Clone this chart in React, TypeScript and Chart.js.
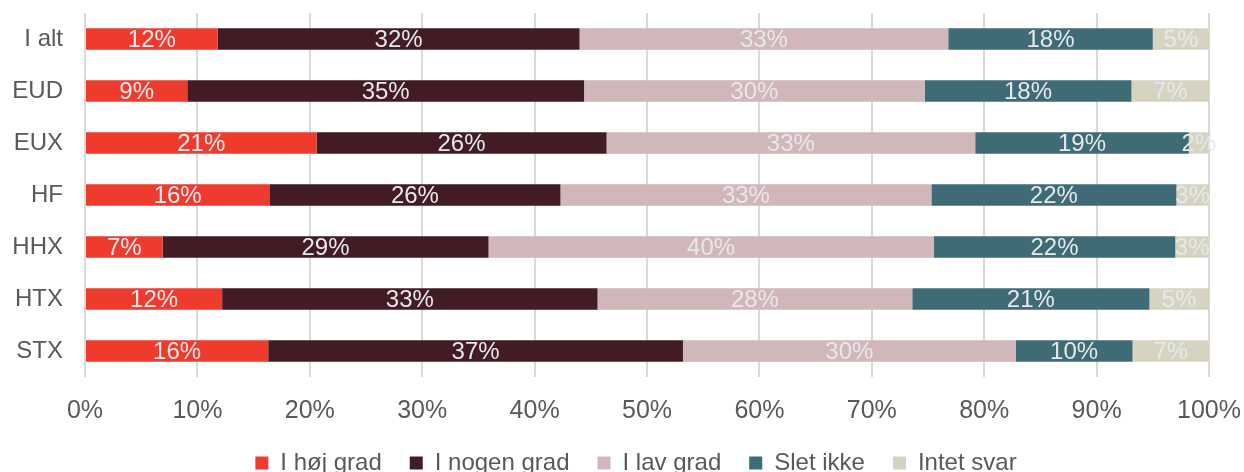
import React, { useEffect, useRef } from 'react';
import { Chart, registerables } from 'chart.js';

Chart.register(...registerables);

const categories = ['I alt', 'EUD', 'EUX', 'HF', 'HHX', 'HTX', 'STX'];
const seriesNames = ['I høj grad', 'I nogen grad', 'I lav grad', 'Slet ikke', 'Intet svar'];
const hojGrad = [11.8, 9.1, 20.6, 16.4, 6.9, 12.2, 16.3];
const nogenGrad = [32.2, 35.3, 25.8, 25.9, 29.0, 33.4, 36.9];
const lavGrad = [32.8, 30.3, 32.8, 33.0, 39.6, 28.0, 29.6];
const sletIkke = [18.2, 18.4, 19.0, 21.8, 21.5, 21.1, 10.4];
const intetSvar = [5.0, 6.9, 1.8, 2.9, 3.0, 5.3, 6.8];
const seriesColors = ['#ee3b2d', '#421b25', '#d1b6ba', '#3e6b76', '#d6d3c0'];

const FONT = "'Liberation Sans', Arial, sans-serif";

const labelPlugin = {
  id: 'segLabels',
  afterDatasetsDraw(chart: any) {
    const ctx = chart.ctx;
    ctx.save();
    ctx.font = `24px ${FONT}`;
    ctx.textAlign = 'center';
    ctx.textBaseline = 'middle';
    ctx.fillStyle = '#e6e9eb';
    chart.data.datasets.forEach((ds: any, di: number) => {
      const meta = chart.getDatasetMeta(di);
      meta.data.forEach((el: any, i: number) => {
        const v = ds.data[i];
        const cx = (el.x + el.base) / 2;
        ctx.fillText(`${Math.round(v)}%`, cx, el.y + 1);
      });
    });
    ctx.restore();
  },
};

export default function App() {
  const ref = useRef<HTMLCanvasElement>(null);
  useEffect(() => {
    const seriesData = [hojGrad, nogenGrad, lavGrad, sletIkke, intetSvar];
    const chart = new Chart(ref.current!, {
      type: 'bar',
      data: {
        labels: categories,
        datasets: seriesNames.map((name, i) => ({
          label: name,
          data: seriesData[i],
          backgroundColor: seriesColors[i],
          borderWidth: 0,
          barPercentage: 0.41,
          categoryPercentage: 1,
        })),
      },
      options: {
        indexAxis: 'y',
        responsive: false,
        animation: false,
        layout: { padding: { top: 13, right: -28, left: 0, bottom: 0 } },
        plugins: {
          tooltip: { enabled: false },
          legend: {
            position: 'bottom',
            labels: {
              color: '#595959',
              font: { family: FONT, size: 24 },
              boxWidth: 13,
              boxHeight: 13,
              padding: 28,
            },
          },
        },
        scales: {
          x: {
            stacked: true,
            min: 0,
            max: 100,
            ticks: {
              stepSize: 10,
              color: '#595959',
              font: { family: FONT, size: 25 },
              padding: 19,
              maxRotation: 0,
              callback: (v: any) => `${v}%`,
            },
            grid: { color: '#d9d9d9', lineWidth: 2, drawTicks: false },
            border: { display: false },
            afterFit: (scale: any) => {
              scale.height = 46;
              scale.paddingLeft = 0;
              scale.paddingRight = 35;
            },
          },
          y: {
            stacked: true,
            ticks: {
              color: '#595959',
              font: { family: FONT, size: 24 },
              padding: 22,
            },
            grid: { display: false, drawTicks: false },
            border: { display: false },
            afterFit: (scale: any) => {
              scale.width = 85;
              scale.paddingTop = 0;
              scale.paddingBottom = 0;
            },
          },
        },
      },
      plugins: [labelPlugin],
    });
    return () => chart.destroy();
  }, []);
  return (
    <div style={{ position: 'fixed', left: 0, top: 0, width: 1244, height: 472, overflow: 'hidden', background: '#fff' }}>
      <canvas ref={ref} width={1244} height={485} />
    </div>
  );
}
